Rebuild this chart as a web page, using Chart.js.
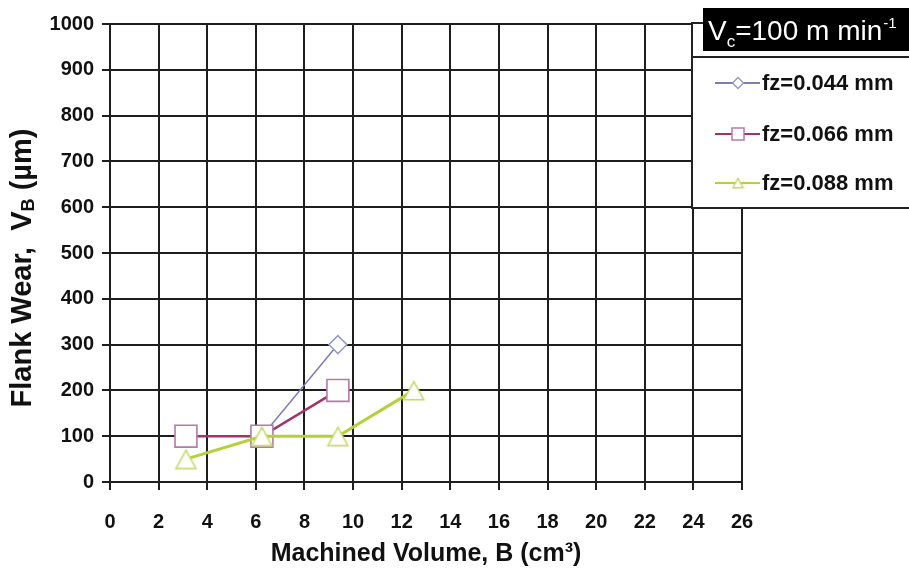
<!DOCTYPE html>
<html><head><meta charset="utf-8">
<script src="https://cdn.jsdelivr.net/npm/chart.js@4/dist/chart.umd.min.js"></script>
<style>html,body{margin:0;padding:0;background:#fff}#wrap{width:909px;height:574px}</style>
</head><body><div id="wrap"><canvas id="c" width="909" height="574"></canvas></div>
<script>
// ---- data ----
const volume044 = [3.125, 6.25, 9.375];
const wear044 = [100, 100, 300];
const volume066 = [3.125, 6.25, 9.375];
const wear066 = [100, 100, 200];
const volume088 = [3.125, 6.25, 9.375, 12.5];
const wear088 = [50, 100, 100, 200];
const seriesLabels = ['fz=0.044 mm', 'fz=0.066 mm', 'fz=0.088 mm'];
const xTickValues = [0, 2, 4, 6, 8, 10, 12, 14, 16, 18, 20, 22, 24, 26];
const yTickValues = [0, 100, 200, 300, 400, 500, 600, 700, 800, 900, 1000];
const legendTitle = ['V', 'c', '=100 m min', '-1'];
const yTitleParts = ['Flank Wear,  V', 'B', ' (\u00b5m)'];
const xTitle = 'Machined Volume, B (cm\u00b3)';

const toPts = (xs, ys) => xs.map((x, i) => ({x: x, y: ys[i]}));
const FONT = '"Liberation Sans", Arial, sans-serif';

function makeTriangle(w, h, color, lw) {
  const c = document.createElement('canvas');
  c.width = w; c.height = h;
  const g = c.getContext('2d');
  g.fillStyle = '#fff';
  g.strokeStyle = color;
  g.lineWidth = lw;
  g.lineJoin = 'miter';
  g.beginPath();
  g.moveTo(w / 2, lw);
  g.lineTo(w - lw, h - lw / 2 - 0.5);
  g.lineTo(lw, h - lw / 2 - 0.5);
  g.closePath();
  g.fill(); g.stroke();
  return c;
}
const triBig = makeTriangle(23, 21, '#c6da66', 1.6);
const triSmall = makeTriangle(13, 12, '#c6da66', 1.4);

const legendPlugin = {
  id: 'customDecor',
  afterDraw(chart) {
    const ctx = chart.ctx;
    ctx.save();
    // y-axis title with subscript
    ctx.translate(23, 268);
    ctx.rotate(-Math.PI / 2);
    ctx.fillStyle = '#111';
    ctx.textBaseline = 'middle';
    const big = 'bold 29px ' + FONT, small = 'bold 18px ' + FONT;
    ctx.font = big; const w0 = ctx.measureText(yTitleParts[0]).width;
    ctx.font = small; const w1 = ctx.measureText(yTitleParts[1]).width;
    ctx.font = big; const w2 = ctx.measureText(yTitleParts[2]).width;
    let x = -(w0 + w1 + w2) / 2;
    ctx.textAlign = 'left';
    ctx.font = big; ctx.fillText(yTitleParts[0], x, 0); x += w0;
    ctx.font = small; ctx.fillText(yTitleParts[1], x, 6); x += w1;
    ctx.font = big; ctx.fillText(yTitleParts[2], x, 0);
    ctx.restore();

    // legend frame
    ctx.save();
    ctx.fillStyle = '#fff';
    ctx.strokeStyle = '#222';
    ctx.lineWidth = 2;
    ctx.fillRect(692, 23, 220, 185);
    ctx.strokeRect(692, 23, 220, 185);
    ctx.beginPath(); ctx.moveTo(692, 57); ctx.lineTo(909, 57); ctx.stroke();
    // black title box
    ctx.fillStyle = '#000';
    ctx.fillRect(703, 8, 206, 43);
    ctx.fillStyle = '#fff';
    ctx.textBaseline = 'alphabetic';
    ctx.textAlign = 'left';
    let tx = 708;
    ctx.font = '28px ' + FONT; ctx.fillText(legendTitle[0], tx, 40); tx += ctx.measureText(legendTitle[0]).width;
    ctx.font = '17px ' + FONT; ctx.fillText(legendTitle[1], tx, 47); tx += ctx.measureText(legendTitle[1]).width;
    ctx.font = '28px ' + FONT; ctx.fillText(legendTitle[2], tx, 40); tx += ctx.measureText(legendTitle[2]).width;
    ctx.font = '15px ' + FONT; ctx.fillText(legendTitle[3], tx + 1, 28);
    // items
    const rows = [83, 134, 183];
    chart.data.datasets.forEach((ds, i) => {
      const y = rows[i];
      ctx.strokeStyle = ds.borderColor;
      ctx.lineWidth = 2;
      ctx.beginPath(); ctx.moveTo(715, y); ctx.lineTo(760, y); ctx.stroke();
      ctx.fillStyle = '#fff';
      ctx.strokeStyle = ds.pointBorderColor;
      ctx.lineWidth = 1.5;
      Chart.helpers.drawPoint(ctx, {pointStyle: ds.legendStyle || ds.pointStyle, radius: ds.legendRadius, borderWidth: 1.5, rotation: 0}, 738, y);
      ctx.fillStyle = '#111';
      ctx.font = 'bold 22px ' + FONT;
      ctx.textBaseline = 'middle';
      ctx.fillText(ds.label, 762, y + 1);
    });
    ctx.restore();
  }
};

new Chart(document.getElementById('c'), {
  type: 'line',
  data: {
    datasets: [
      {label: seriesLabels[0], data: toPts(volume044, wear044), borderColor: '#7c7cba', pointBorderColor: '#9a9ac8',
       pointBackgroundColor: '#fff', pointStyle: 'rectRot', pointRadius: 9, borderWidth: 1.5, pointBorderWidth: 1.5, order: 3, legendRadius: 5.5},
      {label: seriesLabels[1], data: toPts(volume066, wear066), borderColor: '#a2326c', pointBorderColor: '#b47aa8',
       pointBackgroundColor: '#fff', pointStyle: 'rect', pointRadius: 15.5, borderWidth: 2.5, pointBorderWidth: 1.6, order: 2, legendRadius: 8.5},
      {label: seriesLabels[2], data: toPts(volume088, wear088), borderColor: '#b4d238', pointBorderColor: '#c6da66',
       pointBackgroundColor: '#fff', pointStyle: triBig, legendStyle: triSmall, pointRadius: 12, borderWidth: 3, pointBorderWidth: 1.5, order: 1, legendRadius: 6.5}
    ]
  },
  options: {
    responsive: false,
    animation: false,
    devicePixelRatio: 1,
    layout: {padding: {left: 0, top: 24, right: 167, bottom: 0}},
    plugins: {legend: {display: false}, tooltip: {enabled: false}},
    elements: {line: {tension: 0}},
    scales: {
      x: {
        type: 'linear', min: 0, max: 26,
        afterBuildTicks: s => { s.ticks = xTickValues.map(v => ({value: v})); },
        afterFit: s => { s.height = 92; },
        grid: {color: '#1e1e1e', lineWidth: 2, tickLength: 8, tickColor: '#1e1e1e'},
        border: {color: '#1e1e1e', width: 2},
        ticks: {color: '#111', font: {family: FONT, size: 20, weight: 'bold'}, padding: 20, maxRotation: 0,
                callback: v => String(v)},
        title: {display: true, text: xTitle, color: '#111', font: {family: FONT, size: 25, weight: 'bold'}, padding: {top: 0, bottom: 5}}
      },
      y: {
        type: 'linear', min: 0, max: 1000,
        afterBuildTicks: s => { s.ticks = yTickValues.map(v => ({value: v})); },
        afterFit: s => { s.width = 110; },
        grid: {color: '#1e1e1e', lineWidth: 2, tickLength: 8, tickColor: '#1e1e1e'},
        border: {color: '#1e1e1e', width: 2},
        ticks: {color: '#111', font: {family: FONT, size: 20, weight: 'bold'}, padding: 8,
                callback: v => String(v)}
      }
    }
  },
  plugins: [legendPlugin]
});
</script>
</body></html>
